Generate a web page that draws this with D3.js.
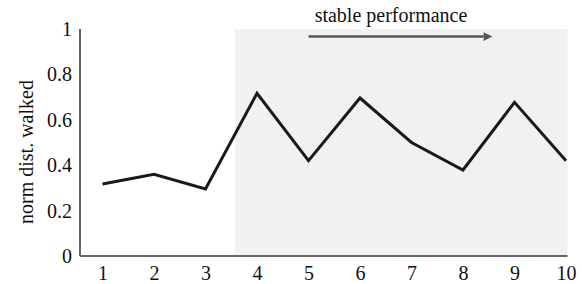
<!DOCTYPE html>
<html>
<head>
<meta charset="utf-8">
<script src="https://cdn.jsdelivr.net/npm/d3@7"></script>
<style>
  body { margin: 0; background: #fff; }
  text { font-family: "Liberation Serif", "DejaVu Serif", serif; fill: #111; }
</style>
</head>
<body>
<script>
// trials and normalised distance walked
var trials = [1, 2, 3, 4, 5, 6, 7, 8, 9, 10];
var distWalked = [0.317, 0.36, 0.295, 0.717, 0.42, 0.696, 0.50, 0.379, 0.677, 0.42];
var yTicks = [0, 0.2, 0.4, 0.6, 0.8, 1];
var stableFrom = 3.57; // shaded region start (in trial units)

var width = 582, height = 284;
var svg = d3.select("body").append("svg").attr("width", width).attr("height", height);

var x = d3.scaleLinear().domain([1, 10]).range([102.5, 566]);
var y = d3.scaleLinear().domain([0, 1]).range([256, 29]);

// shaded "stable" area
svg.append("rect")
  .attr("x", x(stableFrom))
  .attr("y", y(1))
  .attr("width", x(10.03) - x(stableFrom))
  .attr("height", y(0) - y(1))
  .attr("fill", "#f0f1f1");

// axes
var xAxis = svg.append("g").attr("transform", "translate(0," + y(0) + ")")
  .call(d3.axisBottom(x).tickValues(trials).tickSize(0).tickPadding(10).tickFormat(d3.format("d")));
xAxis.select(".domain").attr("d", "M80,0H" + x(10.03)).attr("stroke", "#666").attr("stroke-width", 2);
xAxis.selectAll("text").attr("font-size", 20).attr("fill", "#111");

var yAxis = svg.append("g").attr("transform", "translate(80,0)")
  .call(d3.axisLeft(y).tickValues(yTicks).tickSize(0).tickPadding(8).tickFormat(function(d){ return d === 0 || d === 1 ? d : d3.format(".1f")(d); }));
yAxis.select(".domain").attr("d", "M0," + y(1) + "V" + y(0)).attr("stroke", "#666").attr("stroke-width", 2);
yAxis.selectAll("text").attr("font-size", 20).attr("fill", "#111");

svg.selectAll(".tick text").attr("font-family", "Liberation Serif, serif");

// y label
svg.append("text")
  .attr("transform", "translate(33,152) rotate(-90)")
  .attr("text-anchor", "middle")
  .attr("font-size", 20)
  .text("norm dist. walked");

// line
var line = d3.line().x(function(d, i){ return x(trials[i]); }).y(function(d){ return y(d); });
svg.append("path")
  .datum(distWalked)
  .attr("d", line)
  .attr("fill", "none")
  .attr("stroke", "#1a1a1a")
  .attr("stroke-width", 3)
  .attr("stroke-linejoin", "miter");

// annotation arrow
svg.append("defs").append("marker")
  .attr("id", "arrowhead")
  .attr("viewBox", "0 0 10 10")
  .attr("refX", 0).attr("refY", 5)
  .attr("markerWidth", 5).attr("markerHeight", 3.5)
  .attr("markerUnits", "strokeWidth")
  .attr("orient", "auto")
  .append("path").attr("d", "M0,0L10,5L0,10z").attr("fill", "#555");

svg.append("line")
  .attr("x1", x(5)).attr("x2", x(8.4))
  .attr("y1", 36.5).attr("y2", 36.5)
  .attr("stroke", "#555").attr("stroke-width", 2.5)
  .attr("marker-end", "url(#arrowhead)");

svg.append("text")
  .attr("x", 391).attr("y", 22)
  .attr("text-anchor", "middle")
  .attr("font-size", 20)
  .text("stable performance");
</script>
</body>
</html>
